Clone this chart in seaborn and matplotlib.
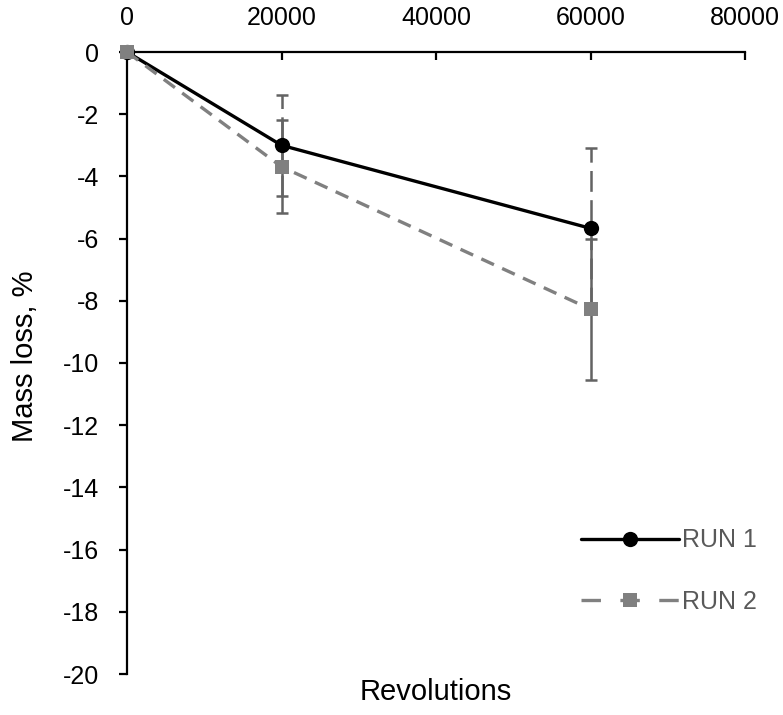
import matplotlib
matplotlib.use("Agg")
import matplotlib.pyplot as plt
import seaborn as sns
import pandas as pd

revolutions = [0, 20000, 60000]
run1_loss = [0.0, -3.0, -5.67]
run1_err = [0.0, 1.63, 2.57]
run2_loss = [0.0, -3.69, -8.27]
run2_err = [0.0, 1.49, 2.27]
series_names = ["RUN 1", "RUN 2"]
x_ticks = [0, 20000, 40000, 60000, 80000]
y_ticks = [0, -2, -4, -6, -8, -10, -12, -14, -16, -18, -20]

sns.set_theme(style="white")
plt.rcParams['font.family'] = ['Liberation Sans', 'DejaVu Sans']
plt.rcParams['lines.scale_dashes'] = False

df = pd.DataFrame({
    "Revolutions": revolutions * 2,
    "Mass loss": run1_loss + run2_loss,
    "Run": [series_names[0]] * 3 + [series_names[1]] * 3,
})

fig = plt.figure(figsize=(7.83, 7.15), dpi=100)
ax = fig.add_axes([127 / 783, 1 - 674 / 715, (745 - 127) / 783, (674 - 52) / 715])

err_col = "#636363"
eb1 = ax.errorbar(revolutions, run1_loss, yerr=run1_err, fmt="none", ecolor=err_col,
                  elinewidth=1.8, capsize=4.5, capthick=1.8, zorder=2)
eb1[2][0].set_linestyle((0, (15, 6)))
eb2 = ax.errorbar(revolutions, run2_loss, yerr=run2_err, fmt="none", ecolor=err_col,
                  elinewidth=1.8, capsize=4.5, capthick=1.8, zorder=2)

sns.lineplot(data=df[df.Run == series_names[0]], x="Revolutions", y="Mass loss", ax=ax,
             color="black", linewidth=2.4, marker="o", markersize=11,
             markeredgewidth=0, label=series_names[0], zorder=3, clip_on=False)
sns.lineplot(data=df[df.Run == series_names[1]], x="Revolutions", y="Mass loss", ax=ax,
             color="#808080", linewidth=2.4, marker="s", markersize=10.5,
             markeredgewidth=0, label=series_names[1], zorder=4, clip_on=False)
ax.lines[-1].set_dashes((10, 6.5))

ax.set_xlim(0, 80000)
ax.set_ylim(-20, 0)
ax.set_xticks(x_ticks)
ax.set_yticks(y_ticks)
ax.set_xticklabels([str(t) for t in x_ticks])
ax.set_yticklabels([str(t) for t in y_ticks])

ax.xaxis.tick_top()
ax.spines['bottom'].set_visible(False)
ax.spines['right'].set_visible(False)
for s in ['top', 'left']:
    ax.spines[s].set_color('black')
    ax.spines[s].set_linewidth(1.6)
ax.tick_params(axis='x', direction='in', length=6, width=1.6, colors='black',
               labelsize=18, pad=16, top=True, bottom=False)
ax.tick_params(axis='y', direction='out', length=6, width=1.6, colors='black',
               labelsize=18, pad=14, left=True)
ax.set_xlabel("")
ax.set_ylabel("")
fig.text(25 / 783, 1 - 356 / 715, "Mass loss, %", rotation=90, ha='center', va='center',
         fontsize=21, color='black')
fig.text((127 + 745) / 2 / 783, 1 - 692 / 715, "Revolutions", ha='center', va='center',
         fontsize=21, color='black')

leg = ax.legend(loc='center left', frameon=False,
                fontsize=18, handlelength=3.9, handletextpad=0.15, labelspacing=1.5,
                labelcolor='#595959', borderaxespad=0, borderpad=0,
                bbox_to_anchor=(581 / 783, 1 - 571 / 715), bbox_transform=fig.transFigure)
for h in leg.get_lines():
    if h.get_linestyle() not in ('-', 'solid'):
        h.set_dashes((14, 14))

fig.savefig("out.png", dpi=100)
